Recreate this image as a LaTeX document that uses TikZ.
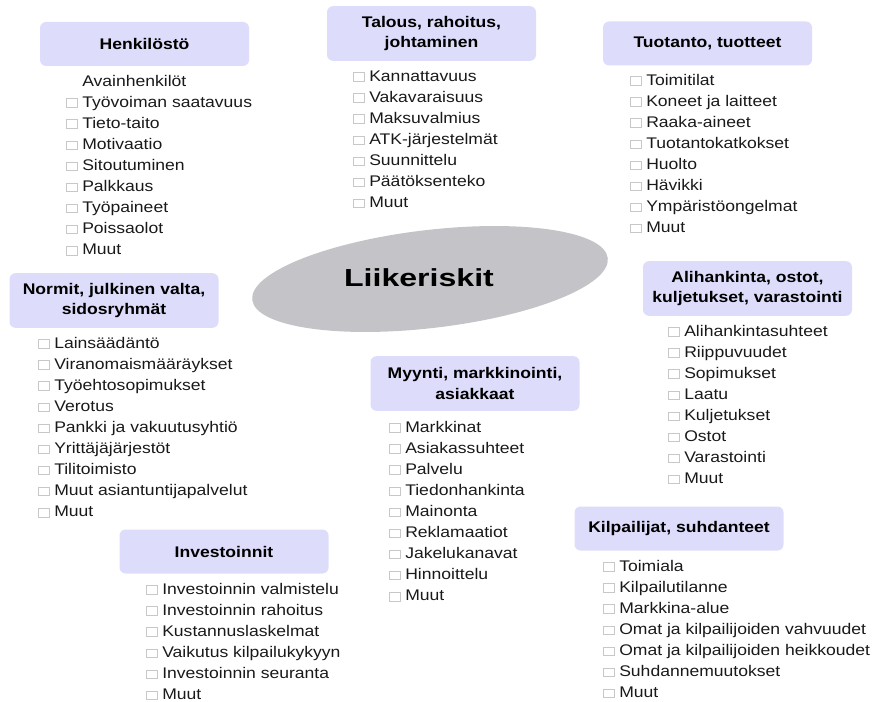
\documentclass[tikz,border=0pt]{standalone}
\usepackage{fontspec}
\setmainfont{Liberation Sans}[FakeStretch=1.14]
\newfontfamily\riskfont{Liberation Sans}[FakeStretch=1.3]
\usetikzlibrary{shapes.geometric}

\definecolor{hdrfill}{RGB}{221,221,251}
\definecolor{riskgray}{RGB}{196,196,200}
\definecolor{sqgray}{RGB}{200,200,200}
\definecolor{itemtext}{RGB}{25,25,25}

% check box in front of an item
\newcommand\bx{\strut{\fboxsep=0pt\fboxrule=0.6pt\fcolorbox{sqgray}{white}{\rule{0pt}{5.9pt}\rule{7.4pt}{0pt}}}\hspace{3.4pt}}

\begin{document}
\begin{tikzpicture}[x=0.75pt,y=-0.75pt,
	hdr/.style={fill=hdrfill,rounded corners=4.5pt,minimum width=156.75pt,minimum height=33pt,inner sep=2pt,align=center,font=\bfseries\fontsize{11.55}{15.5}\selectfont},
	hdrtwo/.style={hdr,minimum height=41pt},
	items/.style={anchor=north west,inner sep=0pt,align=left,text=itemtext,font=\fontsize{11.55}{15.8}\selectfont},
	risk/.style={ellipse,fill=riskgray,minimum width=268.5pt,minimum height=73.5pt,rotate=6.7}]
	\useasboundingbox (0,0) rectangle (874,702);

	\node(riski) [risk] at (430,279) {};
	\node(riskititle) [font=\riskfont\bfseries\fontsize{18.5}{20}\selectfont] at (419,278) {Liikeriskit};

	\node(henk) [hdr] at (144.5,44) {Henkilöstö};
	\node(talous) [hdrtwo] at (431.5,33.5) {Talous, rahoitus,\\ johtaminen};
	\node(tuot) [hdr] at (707.5,43.5) {Tuotanto, tuotteet};
	\node(normit) [hdrtwo] at (114,300.5) {Normit, julkinen valta,\\ sidosryhmät};
	\node(ali) [hdrtwo] at (747.5,288.5) {Alihankinta, ostot,\\ kuljetukset, varastointi};
	\node(myynti) [hdrtwo] at (475,383.5) {Myynti, markkinointi,\\ asiakkaat};
	\node(invest) [hdr] at (224,551.5) {Investoinnit};
	\node(kilp) [hdr] at (679,528.5) {Kilpailijat, suhdanteet};

	\node(henklist) [items] at (66,71) {\phantom{\bx}Avainhenkilöt\\ \bx Työvoiman saatavuus\\ \bx Tieto-taito\\ \bx Motivaatio\\ \bx Sitoutuminen\\ \bx Palkkaus\\ \bx Työpaineet\\ \bx Poissaolot\\ \bx Muut};
	\node(talouslist) [items] at (353,66) {\bx Kannattavuus\\ \bx Vakavaraisuus\\ \bx Maksuvalmius\\ \bx ATK-järjestelmät\\ \bx Suunnittelu\\ \bx Päätöksenteko\\ \bx Muut};
	\node(tuotlist) [items] at (630,70) {\bx Toimitilat\\ \bx Koneet ja laitteet\\ \bx Raaka-aineet\\ \bx Tuotantokatkokset\\ \bx Huolto\\ \bx Hävikki\\ \bx Ympäristöongelmat\\ \bx Muut};
	\node(normlist) [items] at (38,333) {\bx Lainsäädäntö\\ \bx Viranomaismääräykset\\ \bx Työehtosopimukset\\ \bx Verotus\\ \bx Pankki ja vakuutusyhtiö\\ \bx Yrittäjäjärjestöt\\ \bx Tilitoimisto\\ \bx Muut asiantuntijapalvelut\\ \bx Muut};
	\node(alilist) [items] at (668,321) {\bx Alihankintasuhteet\\ \bx Riippuvuudet\\ \bx Sopimukset\\ \bx Laatu\\ \bx Kuljetukset\\ \bx Ostot\\ \bx Varastointi\\ \bx Muut};
	\node(myyntilist) [items] at (389,417) {\bx Markkinat\\ \bx Asiakassuhteet\\ \bx Palvelu\\ \bx Tiedonhankinta\\ \bx Mainonta\\ \bx Reklamaatiot\\ \bx Jakelukanavat\\ \bx Hinnoittelu\\ \bx Muut};
	\node(investlist) [items] at (146,579) {\bx Investoinnin valmistelu\\ \bx Investoinnin rahoitus\\ \bx Kustannuslaskelmat\\ \bx Vaikutus kilpailukykyyn\\ \bx Investoinnin seuranta\\ \bx Muut};
	\node(kilplist) [items] at (603,556) {\bx Toimiala\\ \bx Kilpailutilanne\\ \bx Markkina-alue\\ \bx Omat ja kilpailijoiden vahvuudet\\ \bx Omat ja kilpailijoiden heikkoudet\\ \bx Suhdannemuutokset\\ \bx Muut};
\end{tikzpicture}
\end{document}
